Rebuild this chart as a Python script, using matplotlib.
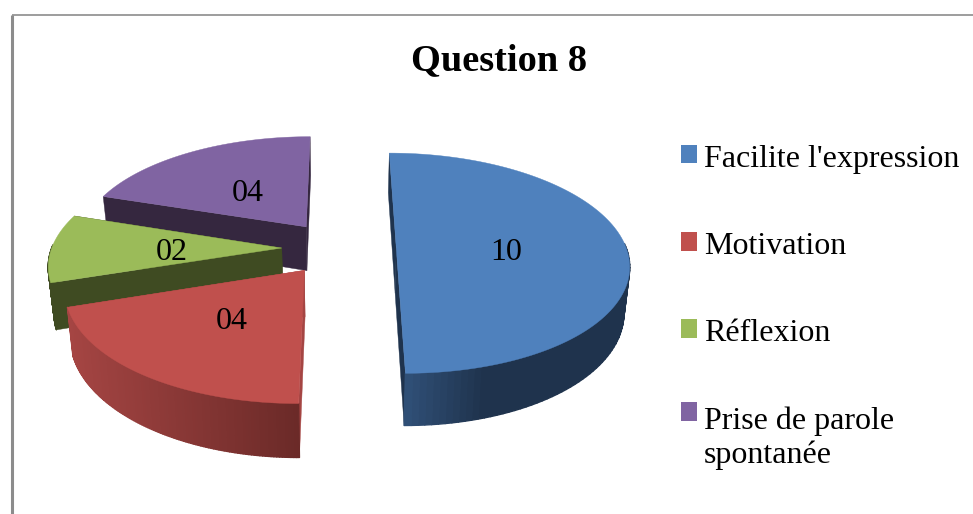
import numpy as np
import matplotlib
matplotlib.use("Agg")
import matplotlib.pyplot as plt
from matplotlib.collections import PolyCollection
from matplotlib.colors import to_rgb
from matplotlib.patches import Patch, Polygon

categories = ["Facilite l'expression", "Motivation", "Réflexion", "Prise de parole\nspontanée"]
values = [10, 4, 2, 4]
value_labels = ["10", "04", "02", "04"]
top_colors = ["#4f81bd", "#c0504d", "#9bbb59", "#8064a2"]
# outer wall gradient, left colour -> right colour
wall_colors = [("#33557f", "#1f334d"), ("#a54543", "#6b2a28"), ("#3f4b22", "#3f4b22"), ("#35273f", "#35273f")]
face_colors = ["#1f334d", "#a54543", "#3f4b22", "#35273f"]

# projection of the exploded 3D pie, in pixels
CX, CY = 339, 248
RX, RY = 230, 108
PERSP = 0.138
EXPLODE = 0.249
DEPTH = 45
BOTTOM_SCALE = 0.98
START = 0.0

plt.rcParams["font.family"] = ["Liberation Serif", "DejaVu Serif"]


def project(x, v, bottom=False):
    s = 1 / (1 - PERSP * v)
    if bottom:
        return CX + RX * x * s * BOTTOM_SCALE, CY + (RY * v + DEPTH) * s
    return CX + RX * x * s, CY + RY * v * s


def draw_slice(ax, a0, a1, top, wall, face):
    mid = np.radians((a0 + a1) / 2)
    ox, ov = EXPLODE * np.sin(mid), -EXPLODE * np.cos(mid)
    th = np.radians(np.linspace(a0, a1, 120))
    x, v = ox + np.sin(th), ov - np.cos(th)

    for k in (0, -1):
        xs = np.array([ox, x[k]])
        vs = np.array([ov, v[k]])
        px, py = project(xs, vs)
        qx, qy = project(xs, vs, bottom=True)
        pts = np.column_stack([np.r_[px, qx[::-1]], np.r_[py, qy[::-1]]])
        ax.add_patch(Polygon(pts, closed=True, fc=face, ec=face, lw=0.3))

    px, py = project(x, v)
    qx, qy = project(x, v, bottom=True)
    xmid = (px[:-1] + px[1:]) / 2
    t = (xmid - xmid.min()) / max(np.ptp(xmid), 1)
    if wall[0] == "#33557f":
        t = np.clip(t * 2.6, 0, 1)  # blue wall reaches its dark tone early
    c0, c1 = np.array(to_rgb(wall[0])), np.array(to_rgb(wall[1]))
    quads, cols = [], []
    for i in range(len(th) - 1):
        # the back of the rim is hidden by the top face
        if -np.cos((th[i] + th[i + 1]) / 2) < -0.03:
            continue
        quads.append([(px[i], py[i]), (px[i + 1], py[i + 1]), (qx[i + 1], qy[i + 1]), (qx[i], qy[i])])
        cols.append(tuple(c0 + (c1 - c0) * t[i]))
    if quads:
        ax.add_collection(PolyCollection(quads, facecolors=cols, edgecolors=cols, linewidths=1.0))

    ax0, ay0 = project(ox, ov)
    outline = np.column_stack([np.r_[ax0, px], np.r_[ay0, py]])
    ax.add_patch(Polygon(outline, closed=True, fc=top, ec=top, lw=0.3))

    lx, ly = project(ox + 0.48 * np.sin(mid), ov - 0.48 * np.cos(mid))
    return lx, ly


def main():
    fig = plt.figure(figsize=(9.73, 5.14), dpi=100)
    ax = fig.add_axes([0, 0, 1, 1])
    ax.set_xlim(0, 973)
    ax.set_ylim(514, 0)
    ax.axis("off")

    # chart frame, cut by the screenshot on the right and bottom
    ax.plot([12, 12], [15, 514], color="#8c8c8c", lw=2.2, solid_capstyle="butt")
    ax.plot([12, 973], [15, 15], color="#8c8c8c", lw=1.2, solid_capstyle="butt")

    spans = 360 * np.array(values) / sum(values)
    starts = START + np.r_[0, np.cumsum(spans)[:-1]]
    label_pos = {}
    # back slices first so the nearer ones cover them
    for i in (3, 2, 1, 0):
        label_pos[i] = draw_slice(ax, starts[i], starts[i] + spans[i], top_colors[i], wall_colors[i], face_colors[i])
    for i, txt in enumerate(value_labels):
        lx, ly = label_pos[i]
        ax.text(lx, ly + 4, txt, fontsize=23, ha="center", va="center", color="black")

    ax.text(499, 61, "Question 8", fontsize=27.6, fontweight="bold", ha="center", va="center")

    handles = [Patch(fc=c, ec=c, lw=0) for c in top_colors]
    leg = ax.legend(
        handles, categories, loc="upper left", bbox_to_anchor=(681 / 973, 1 - 145 / 514),
        bbox_transform=ax.transAxes, frameon=False, fontsize=23, borderpad=0, borderaxespad=0,
        handlelength=0.5, handleheight=0.5, handletextpad=0.22, labelspacing=1.82,
        alignment="left", labelcolor="black",
    )
    for h in leg.legend_handles[:3]:
        h.set_y(h.get_y() + 1)
    leg.legend_handles[-1].set_y(leg.legend_handles[-1].get_y() + 19)

    fig.savefig("out.png", dpi=100)


if __name__ == "__main__":
    main()
